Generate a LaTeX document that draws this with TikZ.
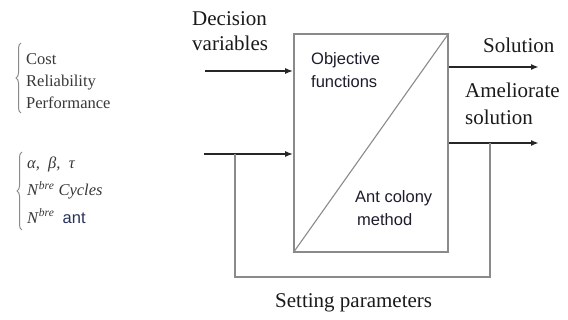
\documentclass[tikz,border=0pt]{standalone}
\usepackage{fontspec}
\setmainfont{Liberation Serif}
\setsansfont{Liberation Sans}
\usetikzlibrary{arrows.meta,decorations.pathreplacing}
\definecolor{boxgray}{HTML}{8A8A8A}
\definecolor{darktext}{HTML}{1A1A1A}
\definecolor{lefttxt}{HTML}{383838}
\definecolor{sanstxt}{HTML}{1C1C2C}
\definecolor{antblue}{HTML}{28305A}
\begin{document}
\begin{tikzpicture}[x=1pt,y=-1pt,
  arr/.style={line width=1.8pt, draw=black!85, -{Latex[length=8pt,width=6pt]}},
  grayline/.style={line width=1.6pt, draw=boxgray},
  bigtext/.style={inner sep=0pt, anchor=west, align=left, text=darktext, font=\fontsize{21}{25}\selectfont},
  boxtext/.style={inner sep=0pt, anchor=west, align=left, text=sanstxt, font=\sffamily\fontsize{16.5}{23}\selectfont},
  lefttext/.style={inner sep=0pt, anchor=west, align=left, text=lefttxt},
  bracestyle/.style={draw=boxgray, line width=1pt, decorate, decoration={brace, amplitude=5pt}}]
\useasboundingbox (0,0) rectangle (568,320);
% main box
\node[grayline, draw, rectangle, inner sep=0pt, minimum width=154pt, minimum height=218pt] (box) at (371,143) {};
\draw[draw=boxgray, line width=1.1pt] (box.south west) -- (box.north east);
% inputs
\coordinate (in1) at (205,71);
\coordinate (in2) at (204,154);
\draw[arr] (in1) -- (in1 -| box.west);
\draw[arr] (in2) -- (in2 -| box.west);
% outputs
\coordinate (out1) at (539,67);
\coordinate (out2) at (539,143);
\draw[arr] (out1 -| box.east) -- (out1);
\draw[arr] (out2 -| box.east) -- (out2);
% feedback loop
\coordinate (fbr) at (490,143);
\coordinate (fbbot) at (490,277);
\coordinate (fbl) at (235,154);
\draw[grayline] (fbr) -- (fbbot) -| (fbl);
% labels
\node[bigtext] (dec) at (192,31) {Decision\\variables};
\node[bigtext] (sol) at (483,45) {Solution};
\node[bigtext, font=\fontsize{21}{27}\selectfont] (amel) at (465,104) {Ameliorate\\solution};
\node[bigtext] (set) at (275,303) {Setting parameters};
\node[boxtext] (obj) at (311,70) {Objective\\functions};
\node[boxtext] (ant) at (355,208) {Ant colony\\\hspace*{2pt}method};
% left groups
\draw[bracestyle] (21,113) -- (21,43);
\node[lefttext, font=\fontsize{16.5}{22}\selectfont] (crit) at (26,81) {Cost\\Reliability\\Performance};
\draw[bracestyle] (22,230) -- (22,152);
\node[lefttext, font=\fontsize{16.5}{27.5}\selectfont] (par) at (27,190)
  {\textit{α, \ β, \ τ}\\\textit{N}\textsuperscript{\textit{bre}} \textit{Cycles}\\\textit{N}\textsuperscript{\textit{bre}}\ \ {\sffamily\color{antblue}ant}};
\end{tikzpicture}
\end{document}
